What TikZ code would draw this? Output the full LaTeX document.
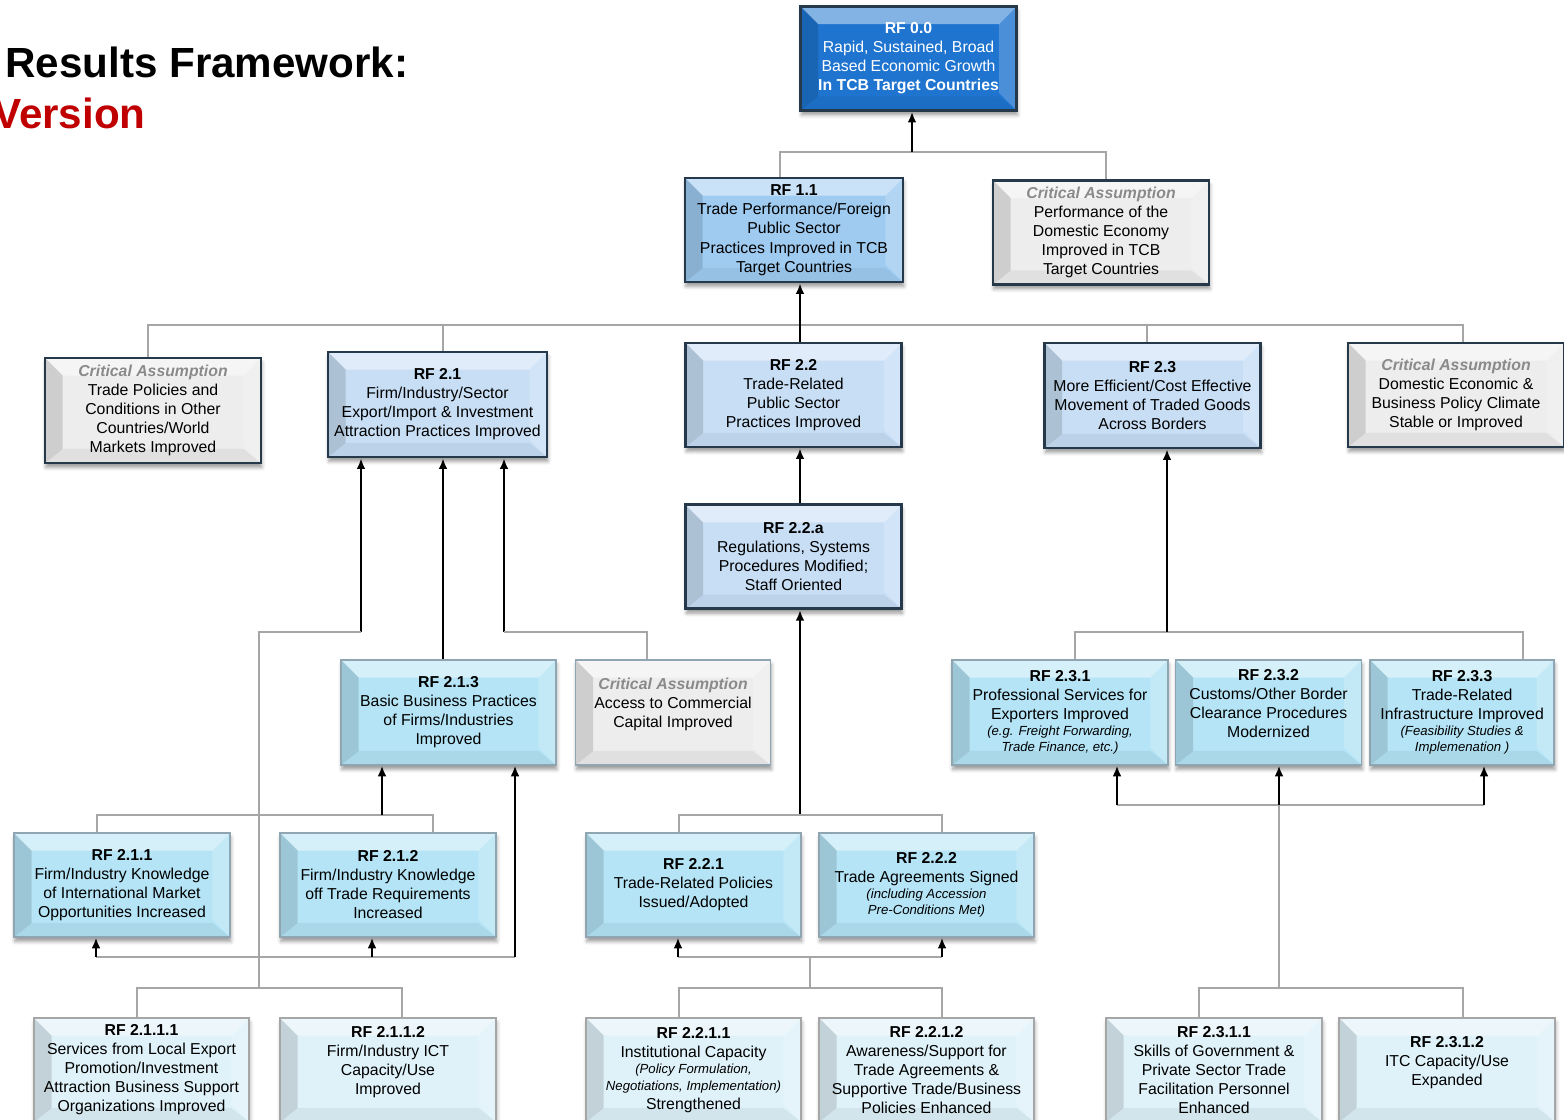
\documentclass[tikz,border=0pt]{standalone}
\usepackage{fontspec}
\setmainfont{Liberation Sans}
\usepackage{xcolor}
\usetikzlibrary{positioning,arrows.meta,shadows.blur}

\definecolor{goalblue}{HTML}{1E74CF}
\definecolor{rfblue}{HTML}{9FCBF1}
\definecolor{irblue}{HTML}{C7DEF5}
\definecolor{subcyan}{HTML}{B4E4F5}
\definecolor{lowcyan}{HTML}{DFF2F9}
\definecolor{cafill}{HTML}{EDEDED}
\definecolor{cagray}{HTML}{8A8A8A}
\definecolor{edgedark}{HTML}{26394A}
\definecolor{edgesoft}{HTML}{8FA6B2}
\definecolor{treegray}{HTML}{A6A6A6}
\definecolor{titlered}{HTML}{C00000}

\newcommand{\critas}{{\color{cagray}\bfseries\itshape Critical Assumption}}
\newcommand{\note}[1]{{\fontsize{7.5}{9}\selectfont\itshape #1}}

\tikzset{
  bevel/.style={path picture={
    \path (path picture bounding box.north west) coordinate (pa)
          (path picture bounding box.north east) coordinate (pb)
          (path picture bounding box.south east) coordinate (pc)
          (path picture bounding box.south west) coordinate (pd);
    \fill[white,opacity=0.45] (pa) -- (pb) -- ([shift={(-10pt,-10pt)}]pb) -- ([shift={(10pt,-10pt)}]pa) -- cycle;
    \fill[white,opacity=0.2] (pb) -- (pc) -- ([shift={(-10pt,10pt)}]pc) -- ([shift={(-10pt,-10pt)}]pb) -- cycle;
    \fill[black,opacity=0.05] (pc) -- (pd) -- ([shift={(10pt,8pt)}]pd) -- ([shift={(-10pt,8pt)}]pc) -- cycle;
    \fill[black,opacity=0.13] (pd) -- (pa) -- ([shift={(10pt,-10pt)}]pa) -- ([shift={(10pt,8pt)}]pd) -- cycle;
  }},
  rfbox/.style={rectangle,bevel,align=center,inner sep=1pt,
    font=\fontsize{9}{10.8}\selectfont,
    minimum width=4.32cm,minimum height=2.08cm,
    blur shadow={shadow xshift=0.5pt,shadow yshift=-2.5pt,shadow blur steps=4,shadow opacity=40}},
  goal/.style={rfbox,fill=goalblue,draw=edgedark,line width=1.6pt,text=white},
  result/.style={rfbox,fill=irblue,draw=edgedark,line width=1.6pt},
  subresult/.style={rfbox,fill=subcyan,draw=edgesoft,line width=0.9pt},
  activity/.style={rfbox,fill=lowcyan,draw=treegray,line width=0.8pt},
  assumption/.style={rfbox,fill=cafill,draw=edgedark,line width=1.6pt},
  feed/.style={draw=black,line width=1.1pt,-{Latex[length=6pt,width=5pt]}},
  link/.style={draw=treegray,line width=0.6pt}
}

\begin{document}
\begin{tikzpicture}[x=0.02cm,y=-0.02cm]
\useasboundingbox (0,0) rectangle (1564,1119);

\node[anchor=base west,font=\bfseries\fontsize{24}{28}\selectfont,inner sep=0pt] (title) at (5,77) {Results Framework:};
\node[anchor=base east,font=\bfseries\fontsize{24}{28}\selectfont,text=titlered,inner sep=0pt] (version) at (146,128) {Version};

\node[goal] (rf00) at (908.5,58.5) {\textbf{RF 0.0}\\Rapid, Sustained, Broad\\Based Economic Growth\\\textbf{In TCB Target Countries}};
\node[result,fill=rfblue,minimum width=4.36cm,font=\fontsize{9}{11}\selectfont] (rf11) at (794,230) {\textbf{RF 1.1}\\Trade Performance/Foreign\\Public Sector\\Practices Improved in TCB\\Target Countries};
\node[assumption] (ca11) at (1101,232.5) {\critas\\Performance of the\\Domestic Economy\\Improved in TCB\\Target Countries};

\node[assumption,minimum height=2.1cm] (ca21) at (153,410.5) {\critas\\Trade Policies and\\Conditions in Other\\Countries/World\\Markets Improved};
\node[result,minimum width=4.38cm,minimum height=2.1cm] (rf21) at (437.5,404.5) {\textbf{RF 2.1}\\Firm/Industry/Sector\\Export/Import \& Investment\\Attraction Practices Improved};
\node[result] (rf22) at (793.5,395) {\textbf{RF 2.2}\\Trade-Related\\Public Sector\\Practices Improved};
\node[result,minimum height=2.1cm] (rf23) at (1152.5,395.5) {\textbf{RF 2.3}\\More Efficient/Cost Effective\\Movement of Traded Goods\\Across Borders};
\node[assumption] (ca23) at (1456,395) {\critas\\Domestic Economic \&\\Business Policy Climate\\Stable or Improved};
\node[result,below=1.1cm of rf22] (rf22a) {\textbf{RF 2.2.a}\\Regulations, Systems\\Procedures Modified;\\Staff Oriented};

\node[subresult,minimum width=4.3cm,minimum height=2.1cm] (rf213) at (448.5,712.5) {\textbf{RF 2.1.3}\\Basic Business Practices\\of Firms/Industries\\Improved};
\node[assumption,draw=edgesoft,line width=0.9pt,minimum width=3.9cm,minimum height=2.1cm,right=0.36cm of rf213] (ca213) {\critas\\Access to Commercial\\Capital Improved\\\mbox{}};
\node[subresult,minimum height=2.1cm] (rf231) at (1060,712.5) {\textbf{RF 2.3.1}\\Professional Services for\\Exporters Improved\\[-1.5pt]\note{(e.g. Freight Forwarding,}\\[-1.5pt]\note{Trade Finance, etc.)}};
\node[subresult,minimum width=3.72cm,minimum height=2.1cm,right=0.12cm of rf231] (rf232) {\textbf{RF 2.3.2}\\Customs/Other Border\\Clearance Procedures\\Modernized\\\mbox{}};
\node[subresult,minimum width=3.68cm,minimum height=2.1cm,right=0.14cm of rf232] (rf233) {\textbf{RF 2.3.3}\\Trade-Related\\Infrastructure Improved\\[-1.5pt]\note{(Feasibility Studies \&}\\[-1.5pt]\note{Implemenation )}};

\node[subresult] (rf211) at (122,885) {\textbf{RF 2.1.1}\\Firm/Industry Knowledge\\of International Market\\Opportunities Increased};
\node[subresult] (rf212) at (388,885) {\textbf{RF 2.1.2}\\Firm/Industry Knowledge\\off Trade Requirements\\Increased};
\node[subresult,minimum width=4.3cm] (rf221) at (693.5,885) {\textbf{RF 2.2.1}\\Trade-Related Policies\\Issued/Adopted};
\node[subresult,minimum width=4.3cm] (rf222) at (926.5,885) {\textbf{RF 2.2.2}\\Trade Agreements Signed\\[-1.5pt]\note{(including Accession}\\[-1.5pt]\note{Pre-Conditions Met)}};

\node[activity,minimum width=4.3cm] (rf2111) at (141.5,1070) {\textbf{RF 2.1.1.1}\\Services from Local Export\\Promotion/Investment\\Attraction Business Support\\Organizations Improved};
\node[activity] (rf2112) at (388,1070) {\textbf{RF 2.1.1.2}\\Firm/Industry ICT\\Capacity/Use\\Improved\\\mbox{}};
\node[activity,minimum width=4.3cm] (rf2211) at (693.5,1070) {\textbf{RF 2.2.1.1}\\Institutional Capacity\\[-1.5pt]\note{(Policy Formulation,}\\[-1.5pt]\note{Negotiations, Implementation)}\\Strengthened};
\node[activity,minimum width=4.3cm] (rf2212) at (926.5,1070) {\textbf{RF 2.2.1.2}\\Awareness/Support for\\Trade Agreements \&\\Supportive Trade/Business\\Policies Enhanced};
\node[activity] (rf2311) at (1214,1070) {\textbf{RF 2.3.1.1}\\Skills of Government \&\\Private Sector Trade\\Facilitation Personnel\\Enhanced};
\node[activity] (rf2312) at (1447,1070) {\textbf{RF 2.3.1.2}\\ITC Capacity/Use\\Expanded\\\mbox{}};

\coordinate (j00) at (912,152);
\coordinate (j01) at (780,152);
\coordinate (j02) at (1106,152);
\draw[link] (j01 |- rf11.north) -- (j01) -- (j02) -- (j02 |- ca11.north);
\draw[feed] (j00) -- (j00 |- rf00.south);

\coordinate (j10) at (800,325);
\coordinate (j11) at (148,325);
\coordinate (j12) at (443,325);
\coordinate (j13) at (1147,325);
\coordinate (j14) at (1463,325);
\draw[link] (j11 |- ca21.north) -- (j11) -- (j14) -- (j14 |- ca23.north);
\draw[link] (j12) -- (j12 |- rf21.north);
\draw[link] (j13) -- (j13 |- rf23.north);
\draw[feed] (j10 |- rf22.north) -- (j10 |- rf11.south);
\draw[feed] (j10 |- rf22a.north) -- (j10 |- rf22.south);

\coordinate (j20) at (800,815);
\coordinate (j21) at (679,815);
\coordinate (j22) at (942,815);
\coordinate (j23) at (678,957);
\coordinate (j24) at (942,957);
\coordinate (j25) at (810,957);
\coordinate (j26) at (810,988);
\coordinate (j27) at (679,988);
\coordinate (j28) at (942,988);
\draw[feed] (j20) -- (j20 |- rf22a.south);
\draw[link] (j21 |- rf221.north) -- (j21) -- (j22) -- (j22 |- rf222.north);
\draw[link] (j23) -- (j24);
\draw[feed] (j23) -- (j23 |- rf221.south);
\draw[feed] (j24) -- (j24 |- rf222.south);
\draw[link] (j25) -- (j26);
\draw[link] (j27 |- rf2211.north) -- (j27) -- (j28) -- (j28 |- rf2212.north);

\coordinate (j31) at (361,632);
\coordinate (j32) at (259,632);
\coordinate (j33) at (259,988);
\coordinate (j34) at (137,988);
\coordinate (j35) at (402,988);
\coordinate (j36) at (504,632);
\coordinate (j37) at (647,632);
\draw[feed] (j12 |- rf213.north) -- (j12 |- rf21.south);
\draw[feed] (j31) -- (j31 |- rf21.south);
\draw[link] (j31) -- (j32) -- (j33);
\draw[link] (j34 |- rf2111.north) -- (j34) -- (j35) -- (j35 |- rf2112.north);
\draw[feed] (j36) -- (j36 |- rf21.south);
\draw[link] (j36) -- (j37) -- (j37 |- ca213.north);

\coordinate (j40) at (382,815);
\coordinate (j41) at (97,815);
\coordinate (j42) at (433,815);
\coordinate (j43) at (96,957);
\coordinate (j44) at (372,957);
\coordinate (j45) at (515,957);
\draw[link] (j41 |- rf211.north) -- (j41) -- (j42) -- (j42 |- rf212.north);
\draw[feed] (j40) -- (j40 |- rf213.south);
\draw[link] (j43) -- (j45);
\draw[feed] (j43) -- (j43 |- rf211.south);
\draw[feed] (j44) -- (j44 |- rf212.south);
\draw[feed] (j45) -- (j45 |- rf213.south);

\coordinate (j50) at (1167,632);
\coordinate (j51) at (1075,632);
\coordinate (j52) at (1523,632);
\coordinate (j53) at (1117,805);
\coordinate (j54) at (1279,805);
\coordinate (j55) at (1484,805);
\coordinate (j56) at (1279,988);
\coordinate (j57) at (1199,988);
\coordinate (j58) at (1463,988);
\draw[link] (j51 |- rf231.north) -- (j51) -- (j52) -- (j52 |- rf233.north);
\draw[feed] (j50) -- (j50 |- rf23.south);
\draw[link] (j53) -- (j55);
\draw[feed] (j53) -- (j53 |- rf231.south);
\draw[feed] (j54) -- (j54 |- rf232.south);
\draw[feed] (j55) -- (j55 |- rf233.south);
\draw[link] (j54) -- (j56);
\draw[link] (j57 |- rf2311.north) -- (j57) -- (j58) -- (j58 |- rf2312.north);
\end{tikzpicture}
\end{document}
